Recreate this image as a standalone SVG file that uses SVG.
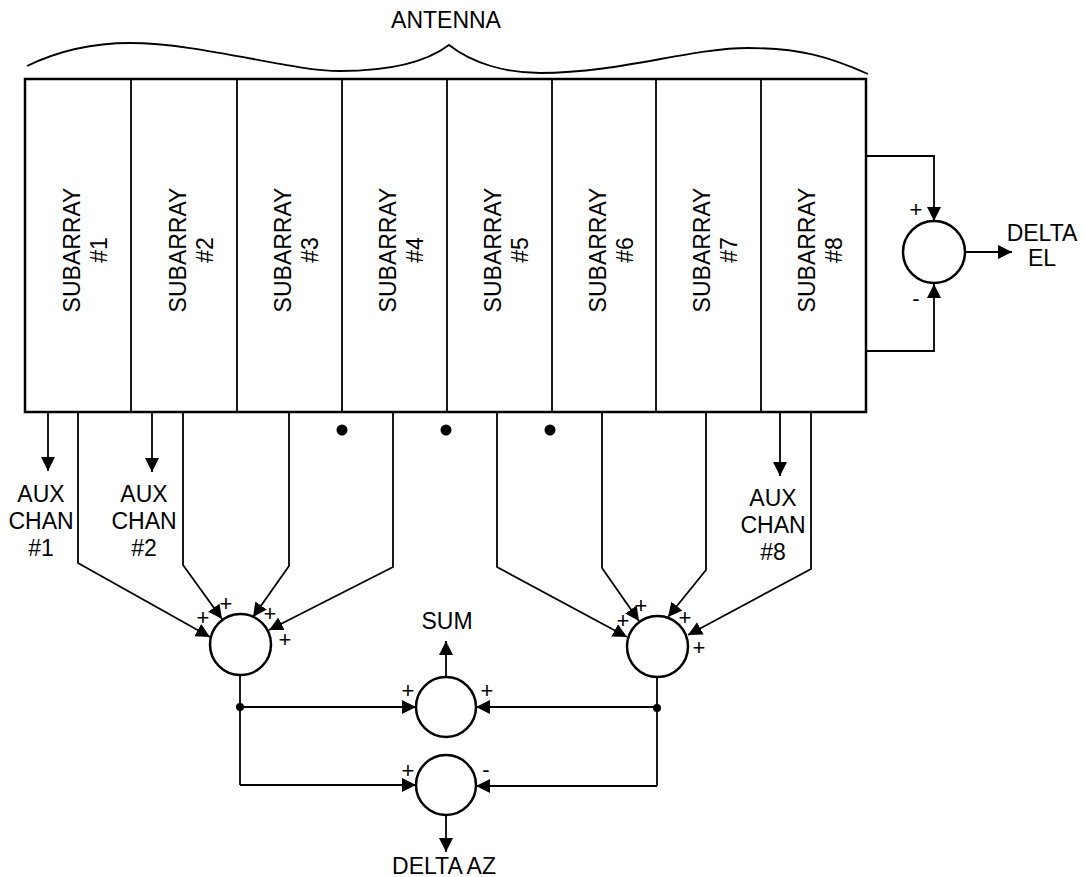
<svg xmlns="http://www.w3.org/2000/svg" width="1084" height="877" viewBox="0 0 1084 877">
<defs>
<marker id="ah" markerUnits="userSpaceOnUse" markerWidth="15" markerHeight="15" refX="14" refY="7" orient="auto">
<path d="M0,0 L14,7 L0,14 z" fill="#000"/>
</marker>
</defs>
<style>
text{font-family:"Liberation Sans",Arial,sans-serif;font-size:23px;fill:#000}
.lbl{text-anchor:middle}
.sg{font-size:22px;text-anchor:middle}
.box{fill:none;stroke:#000;stroke-width:2.5}
.div{stroke:#000;stroke-width:1.8}
.sum{fill:#fff;stroke:#000;stroke-width:2.5}
.w{fill:none;stroke:#000;stroke-width:1.8}
.wa{fill:none;stroke:#000;stroke-width:1.8;marker-end:url(#ah)}
</style>
<rect width="1084" height="877" fill="#fff"/>

<g id="antenna">
<path class="w" d="M27,66 C60,50 95,43 130,43 C200,43 290,71 340,71 C385,71 425,63 449,45 C472,63 505,73 540,73 C620,73 690,48 748,48 C800,48 830,57 868,74"/>
<text class="lbl" x="446" y="28">ANTENNA</text>
<rect class="box" x="25" y="79" width="841" height="333"/>
</g>

<g id="subarray1"><line class="div" x1="131" y1="79" x2="131" y2="412"/>
<text class="lbl" transform="translate(78,250) rotate(-90)"><tspan x="0" y="2">SUBARRAY</tspan><tspan x="0" y="29">#1</tspan></text></g>
<g id="subarray2"><line class="div" x1="237" y1="79" x2="237" y2="412"/>
<text class="lbl" transform="translate(184,250) rotate(-90)"><tspan x="0" y="2">SUBARRAY</tspan><tspan x="0" y="29">#2</tspan></text></g>
<g id="subarray3"><line class="div" x1="342" y1="79" x2="342" y2="412"/>
<text class="lbl" transform="translate(289,250) rotate(-90)"><tspan x="0" y="2">SUBARRAY</tspan><tspan x="0" y="29">#3</tspan></text></g>
<g id="subarray4"><line class="div" x1="447" y1="79" x2="447" y2="412"/>
<text class="lbl" transform="translate(394,250) rotate(-90)"><tspan x="0" y="2">SUBARRAY</tspan><tspan x="0" y="29">#4</tspan></text></g>
<g id="subarray5"><line class="div" x1="552" y1="79" x2="552" y2="412"/>
<text class="lbl" transform="translate(499,250) rotate(-90)"><tspan x="0" y="2">SUBARRAY</tspan><tspan x="0" y="29">#5</tspan></text></g>
<g id="subarray6"><line class="div" x1="656" y1="79" x2="656" y2="412"/>
<text class="lbl" transform="translate(604,250) rotate(-90)"><tspan x="0" y="2">SUBARRAY</tspan><tspan x="0" y="29">#6</tspan></text></g>
<g id="subarray7"><line class="div" x1="761" y1="79" x2="761" y2="412"/>
<text class="lbl" transform="translate(708,250) rotate(-90)"><tspan x="0" y="2">SUBARRAY</tspan><tspan x="0" y="29">#7</tspan></text></g>
<g id="subarray8">
<text class="lbl" transform="translate(813,250) rotate(-90)"><tspan x="0" y="2">SUBARRAY</tspan><tspan x="0" y="29">#8</tspan></text></g>

<g id="connectors">
<path class="wa" d="M866,156 H934 V221"/>
<path class="wa" d="M866,351 H934 V284"/>
<path class="wa" d="M965,252 H1012"/>
<path class="wa" d="M48,412 V471"/>
<path class="wa" d="M152,412 V472"/>
<path class="wa" d="M780,412 V476"/>
<path class="wa" d="M78,412 V563 L210,637"/>
<path class="wa" d="M183,412 V565 L222,619"/>
<path class="wa" d="M289,412 V566 L253,617"/>
<path class="wa" d="M393,412 V567 L269,630"/>
<path class="wa" d="M497,412 V567 L627,637"/>
<path class="wa" d="M602,412 V568 L639,621"/>
<path class="wa" d="M706,412 V570 L668,617"/>
<path class="wa" d="M811,412 V569 L688,635"/>
<path class="w" d="M240,675 V785"/>
<path class="w" d="M657,677 V786"/>
<path class="wa" d="M240,707 H416"/>
<path class="wa" d="M657,707 H476"/>
<path class="wa" d="M240,785 H416"/>
<path class="wa" d="M657,786 H476"/>
<path class="wa" d="M446,677 V641"/>
<path class="wa" d="M446,815 V852"/>
<circle cx="342" cy="430" r="5.5"/>
<circle cx="446" cy="430" r="5.5"/>
<circle cx="550" cy="430" r="5.5"/>
<circle cx="240" cy="707" r="4"/>
<circle cx="657" cy="708" r="4"/>
</g>

<g id="aux1"><text class="lbl"><tspan x="41" y="502">AUX</tspan><tspan x="41" y="529">CHAN</tspan><tspan x="41" y="556">#1</tspan></text></g>
<g id="aux2"><text class="lbl"><tspan x="144" y="502">AUX</tspan><tspan x="144" y="529">CHAN</tspan><tspan x="144" y="556">#2</tspan></text></g>
<g id="aux8"><text class="lbl"><tspan x="773" y="506">AUX</tspan><tspan x="773" y="533">CHAN</tspan><tspan x="773" y="560">#8</tspan></text></g>

<g id="deltaEl">
<circle class="sum" cx="934" cy="252" r="31"/>
<text class="sg" x="916" y="217">+</text>
<text class="sg" x="916" y="306">-</text>
<text class="lbl"><tspan x="1042" y="241">DELTA</tspan><tspan x="1042" y="266">EL</tspan></text>
</g>

<g id="leftSum">
<circle class="sum" cx="240.5" cy="644.5" r="30.5"/>
<text class="sg" x="203" y="625">+</text>
<text class="sg" x="226" y="611">+</text>
<text class="sg" x="270" y="621">+</text>
<text class="sg" x="285" y="647">+</text>
</g>

<g id="rightSum">
<circle class="sum" cx="657.5" cy="646.5" r="30.5"/>
<text class="sg" x="623" y="628">+</text>
<text class="sg" x="641" y="613">+</text>
<text class="sg" x="685" y="625">+</text>
<text class="sg" x="699" y="655">+</text>
</g>

<g id="sumNode">
<circle class="sum" cx="446" cy="707" r="30"/>
<text class="sg" x="408" y="698">+</text>
<text class="sg" x="487" y="698">+</text>
<text class="lbl" x="447" y="629">SUM</text>
</g>

<g id="deltaAz">
<circle class="sum" cx="446" cy="785" r="30"/>
<text class="sg" x="408" y="778">+</text>
<text class="sg" x="486" y="777">-</text>
<text class="lbl" x="444" y="874">DELTA AZ</text>
</g>
</svg>
